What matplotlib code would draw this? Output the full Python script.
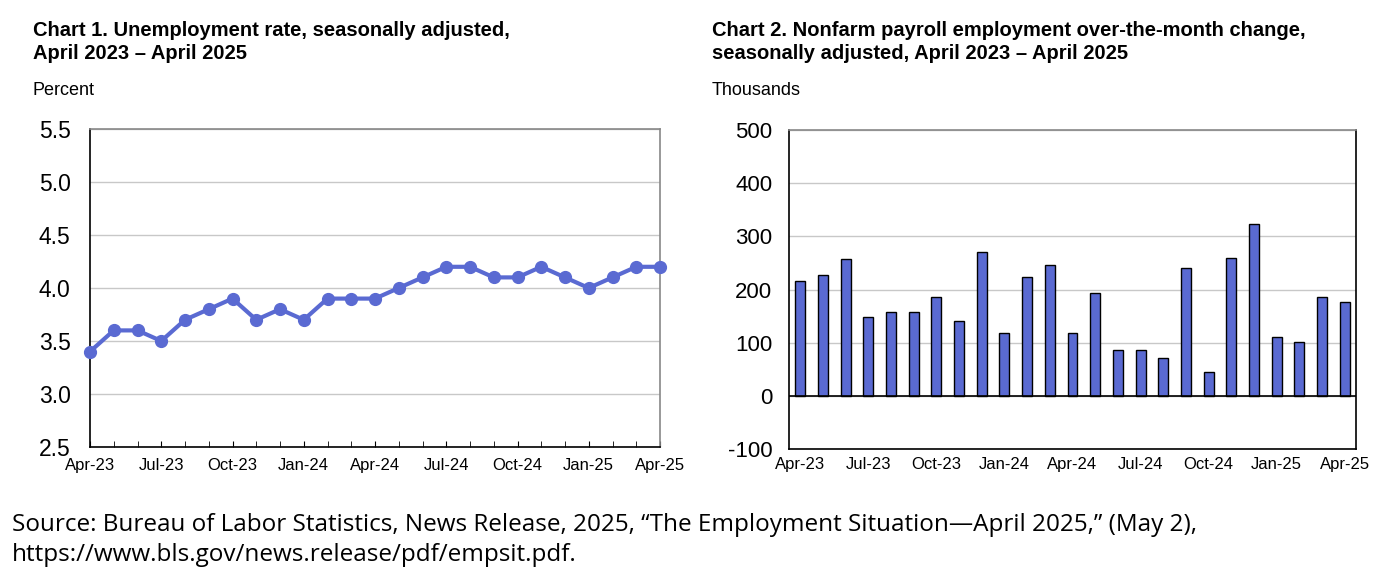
import matplotlib
matplotlib.use('Agg')
import matplotlib.pyplot as plt

# Data
months = ['Apr-23', 'May-23', 'Jun-23', 'Jul-23', 'Aug-23', 'Sep-23', 'Oct-23', 'Nov-23', 'Dec-23',
          'Jan-24', 'Feb-24', 'Mar-24', 'Apr-24', 'May-24', 'Jun-24', 'Jul-24', 'Aug-24', 'Sep-24',
          'Oct-24', 'Nov-24', 'Dec-24', 'Jan-25', 'Feb-25', 'Mar-25', 'Apr-25']
unemployment = [3.4, 3.6, 3.6, 3.5, 3.7, 3.8, 3.9, 3.7, 3.8, 3.7, 3.9, 3.9, 3.9,
                4.0, 4.1, 4.2, 4.2, 4.1, 4.1, 4.2, 4.1, 4.0, 4.1, 4.2, 4.2]
payrolls = [216, 227, 257, 148, 157, 158, 186, 140, 270, 119, 223, 247, 118,
            193, 87, 87, 71, 240, 44, 260, 323, 111, 102, 186, 177]
label_pos = list(range(0, 25, 3))
label_text = [months[i] for i in label_pos]

blue = '#5a6ad2'
grid_c = '#c8c8c8'
plt.rcParams['font.family'] = ['Liberation Sans', 'DejaVu Sans']

fig = plt.figure(figsize=(13.88, 5.84), dpi=100)

# Chart 1: unemployment rate
ax1 = fig.add_axes([90/1388, 137/584, 570/1388, 318/584])
x = list(range(len(months)))
ax1.plot(x, unemployment, color=blue, lw=3, marker='o', ms=8.5, zorder=3, clip_on=False)
ax1.set_xlim(0, 24)
ax1.set_ylim(2.5, 5.5)
ax1.set_yticks([2.5, 3.0, 3.5, 4.0, 4.5, 5.0, 5.5])
ax1.set_yticklabels(['2.5', '3.0', '3.5', '4.0', '4.5', '5.0', '5.5'], fontsize=16.5)
ax1.set_xticks(x, minor=True)
ax1.set_xticks(label_pos)
ax1.set_xticklabels(label_text, fontsize=12)
ax1.tick_params(axis='x', which='both', direction='in', length=4, color='black', pad=8)
ax1.tick_params(axis='y', length=0, pad=14)
ax1.grid(axis='y', color=grid_c, lw=1)
ax1.set_axisbelow(True)
for s in ax1.spines.values():
    s.set_color('black')
    s.set_linewidth(1.2)
ax1.spines['right'].set_color('#888888')
ax1.spines['top'].set_color('#888888')

# Chart 2: payroll change
ax2 = fig.add_axes([789/1388, 135/584, 567/1388, 319/584])
ax2.bar(x, payrolls, width=0.44, color=blue, edgecolor='black', lw=1, zorder=3)
ax2.set_xlim(-0.5, 24.5)
ax2.set_ylim(-100, 500)
ax2.set_yticks(range(-100, 501, 100))
ax2.set_yticklabels([str(v) for v in range(-100, 501, 100)], fontsize=16)
ax2.set_xticks(label_pos)
ax2.set_xticklabels(label_text, fontsize=12)
ax2.tick_params(axis='x', length=0, pad=6)
ax2.tick_params(axis='y', length=0, pad=12)
ax2.grid(axis='y', color=grid_c, lw=1)
ax2.axhline(0, color='black', lw=1.2, zorder=4)
ax2.set_axisbelow(True)
for s in ax2.spines.values():
    s.set_color('black')
    s.set_linewidth(1.2)
ax2.spines['top'].set_color('#888888')

# Titles and unit labels
fig.text(33/1388, 1 - 42/584, 'Chart 1. Unemployment rate, seasonally adjusted,\nApril 2023 \u2013 April 2025',
         fontsize=14.5, fontweight='bold', va='center', ha='left', linespacing=1.25)
fig.text(33/1388, 1 - 90/584, 'Percent', fontsize=13, va='center', ha='left')
fig.text(712/1388, 1 - 42/584, 'Chart 2. Nonfarm payroll employment over-the-month change,\nseasonally adjusted, April 2023 \u2013 April 2025',
         fontsize=14.5, fontweight='bold', va='center', ha='left', linespacing=1.25)
fig.text(712/1388, 1 - 90/584, 'Thousands', fontsize=13, va='center', ha='left')

fig.text(12/1388, 1 - 540/584,
         'Source: Bureau of Labor Statistics, News Release, 2025, \u201cThe Employment Situation\u2014April 2025,\u201d (May 2),\nhttps://www.bls.gov/news.release/pdf/empsit.pdf.',
         fontsize=17.5, va='center', ha='left', linespacing=1.35, family=['Open Sans', 'DejaVu Sans'])

fig.savefig('out.png', dpi=100)
